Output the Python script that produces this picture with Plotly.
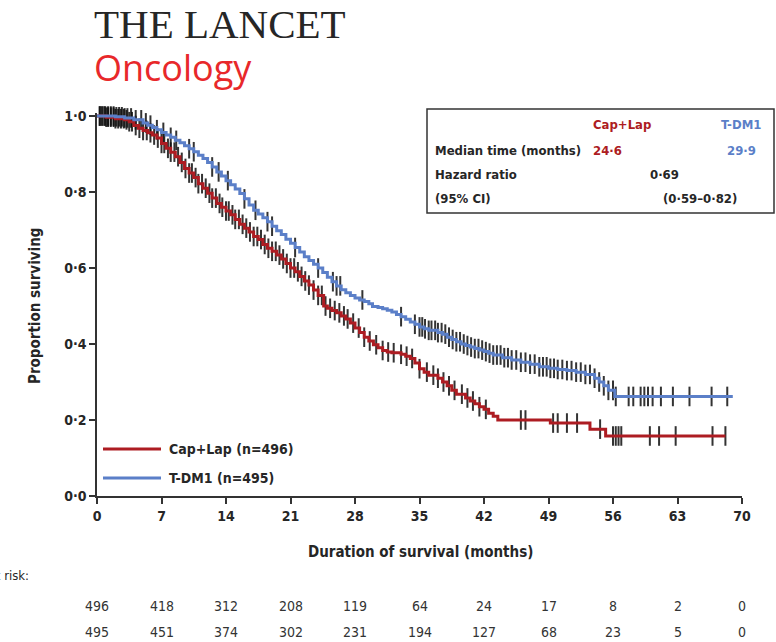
import numpy as np
import plotly.graph_objects as go

# ---- Kaplan-Meier step data (months, proportion surviving) ----
caplap_t = [0, 1, 2, 3, 3.5, 4, 4.5, 5, 5.5, 6, 6.5, 7, 7.5, 8, 8.5, 9, 9.5, 10, 10.5, 11,
            11.5, 12, 12.5, 13, 13.5, 14, 14.5, 15, 15.5, 16, 16.5, 17, 17.5, 18, 18.5, 19,
            19.5, 20, 20.5, 21, 21.5, 22, 22.5, 23, 23.5, 24, 24.6, 25, 25.5, 26, 26.5, 27,
            27.5, 28, 28.5, 29, 29.5, 30, 30.5, 31, 31.5, 32, 33, 33.5, 34, 34.5, 35, 35.5,
            36, 37, 37.5, 38, 38.5, 39, 40, 40.5, 41, 41.5, 42, 42.5, 43, 43.5, 49.2, 53.5,
            55.2, 68.2]
caplap_s = [1.000, 0.997, 0.993, 0.990, 0.985, 0.975, 0.968, 0.962, 0.956, 0.950, 0.942,
            0.928, 0.915, 0.905, 0.893, 0.878, 0.862, 0.850, 0.838, 0.822, 0.810, 0.797,
            0.784, 0.770, 0.760, 0.750, 0.740, 0.728, 0.715, 0.705, 0.695, 0.683, 0.675,
            0.662, 0.652, 0.644, 0.634, 0.624, 0.612, 0.600, 0.590, 0.578, 0.566, 0.555,
            0.542, 0.528, 0.500, 0.494, 0.488, 0.482, 0.474, 0.466, 0.455, 0.442, 0.430,
            0.418, 0.408, 0.398, 0.390, 0.383, 0.379, 0.377, 0.373, 0.368, 0.362, 0.350,
            0.335, 0.326, 0.318, 0.310, 0.300, 0.290, 0.278, 0.268, 0.258, 0.250, 0.243,
            0.235, 0.228, 0.218, 0.210, 0.200, 0.192, 0.176, 0.158, 0.158]

tdm1_t = [0, 2, 3, 4, 5, 5.5, 6, 6.5, 7, 7.5, 8, 8.5, 9, 9.5, 10, 10.5, 11, 11.5, 12, 12.5,
          13, 13.5, 14, 14.5, 15, 15.5, 16, 16.5, 17, 17.5, 18, 18.5, 19, 19.5, 20, 20.5,
          21, 21.5, 22, 22.5, 23, 23.5, 24, 24.5, 25, 25.5, 26, 26.5, 27, 27.5, 28, 28.5,
          29, 29.5, 29.9, 30.5, 31, 31.5, 32, 32.5, 33, 33.5, 34, 34.5, 35, 35.5, 36, 37,
          37.5, 38, 38.5, 39, 39.5, 40, 40.5, 41, 41.5, 42, 42.5, 43, 44, 45, 46, 47, 48,
          49, 50, 51, 52, 53, 54, 54.5, 55, 55.5, 56.2, 69.0]
tdm1_s = [1.000, 0.998, 0.995, 0.990, 0.982, 0.976, 0.970, 0.964, 0.957, 0.950, 0.944,
          0.936, 0.930, 0.922, 0.914, 0.906, 0.897, 0.888, 0.878, 0.866, 0.853, 0.842,
          0.830, 0.819, 0.808, 0.796, 0.782, 0.766, 0.752, 0.742, 0.732, 0.722, 0.710,
          0.698, 0.688, 0.676, 0.665, 0.654, 0.642, 0.630, 0.620, 0.610, 0.600, 0.588,
          0.576, 0.564, 0.553, 0.543, 0.535, 0.528, 0.521, 0.516, 0.512, 0.506, 0.499,
          0.496, 0.493, 0.489, 0.484, 0.478, 0.472, 0.465, 0.458, 0.452, 0.445, 0.440,
          0.436, 0.430, 0.426, 0.418, 0.412, 0.406, 0.400, 0.396, 0.392, 0.388, 0.384,
          0.380, 0.376, 0.371, 0.364, 0.358, 0.352, 0.347, 0.340, 0.336, 0.333, 0.330,
          0.326, 0.320, 0.310, 0.300, 0.290, 0.278, 0.262, 0.262]

# censoring times (months)
caplap_cens = [0.3, 0.5, 0.8, 1.0, 1.2, 1.5, 1.8, 2.0, 2.3, 2.6, 2.9, 3.2, 3.5, 3.8, 4.2, 4.6,
               5.0, 5.4, 5.8, 6.2, 6.6, 7.0, 7.3, 7.7, 8.0, 8.4, 8.8, 9.2, 9.6, 10.0, 10.3,
               10.7, 11.0, 11.4, 11.8, 12.2, 12.5, 12.9, 13.3, 13.6, 14.0, 14.3, 14.7, 15.0,
               15.4, 15.8, 16.2, 16.6, 17.0, 17.4, 17.8, 18.2, 18.6, 19.0, 19.4, 19.8, 20.2,
               20.6, 21.0, 21.4, 21.8, 22.2, 22.6, 23.0, 23.5, 24.0, 24.4, 24.8, 25.3, 25.8,
               26.3, 26.8, 27.2, 27.8, 28.4, 29.0, 29.6, 30.3, 31.0, 31.6, 32.2, 33.0, 33.6,
               34.2, 35.0, 35.8, 36.5, 37.0, 37.6, 38.2, 38.8, 39.6, 40.2, 40.8, 41.5, 42.2,
               46.0, 46.5, 49.5, 50.0, 51.0, 52.1, 54.6, 56.0, 56.3, 56.6, 56.9, 60.0, 61.0,
               62.8, 66.8, 68.2]
tdm1_cens = [0.3, 0.6, 0.9, 1.2, 1.5, 1.8, 2.1, 2.4, 2.7, 3.0, 3.3, 3.7, 4.2, 4.8, 5.3, 5.8,
             6.5, 7.2, 8.0, 8.6, 10.0, 10.5, 12.5, 13.2, 14.2, 16.0, 17.2, 18.5, 19.0, 21.5,
             24.0, 25.6, 26.0, 26.4, 28.8, 33.0, 34.5, 35.0, 35.3, 35.6, 36.0, 36.3, 36.7,
             37.0, 37.4, 37.8, 38.2, 38.6, 39.0, 39.4, 39.8, 40.2, 40.6, 41.0, 41.4, 41.8,
             42.2, 42.6, 43.0, 43.4, 43.8, 44.2, 44.6, 45.0, 45.5, 46.0, 46.5, 47.0, 47.5,
             48.0, 48.4, 48.8, 49.2, 49.6, 50.0, 50.5, 51.0, 51.5, 52.0, 52.5, 53.0, 53.5,
             54.0, 54.5, 55.0, 55.5, 56.0, 56.3, 57.7, 58.2, 59.0, 59.4, 59.8, 60.3, 61.2,
             62.5, 64.3, 66.7, 68.4]

# numbers at risk
risk_months = [0, 7, 14, 21, 28, 35, 42, 49, 56, 63, 70]
risk_caplap = [496, 418, 312, 208, 119, 64, 24, 17, 8, 2, 0]
risk_tdm1 = [495, 451, 374, 302, 231, 194, 127, 68, 23, 5, 0]

y_ticks = [0, 0.2, 0.4, 0.6, 0.8, 1.0]
y_ticktext = ["0·0", "0·2", "0·4", "0·6", "0·8", "1·0"]
x_ticks = [0, 7, 14, 21, 28, 35, 42, 49, 56, 63, 70]

RED = "#ad1c22"
BLUE = "#5b7fc8"
INK = "#262626"
COND = "Liberation Sans Narrow, DejaVu Sans Condensed, Arial Narrow, sans-serif"

W, H = 776, 642
L, R, T, B = 97, 34, 113, 146
PW, PH = W - L - R, H - T - B


def px(x):
    return (x - L) / PW


def py(y):
    return (H - B - y) / PH


def surv_at(times, t_steps, s_steps):
    idx = np.searchsorted(np.asarray(t_steps), np.asarray(times), side="right") - 1
    return np.asarray(s_steps)[idx]


def label(text, x, y, size, color=INK, xanchor="center", yanchor="middle", family=COND, **kw):
    return dict(text=text, x=px(x), y=py(y), xref="paper", yref="paper",
                xanchor=xanchor, yanchor=yanchor, showarrow=False,
                font=dict(family=family, size=size, color=color), **kw)


fig = go.Figure()

# censor ticks
for cens, ts, ss in [(caplap_cens, caplap_t, caplap_s), (tdm1_cens, tdm1_t, tdm1_s)]:
    fig.add_trace(go.Scatter(
        x=cens, y=surv_at(cens, ts, ss), mode="markers",
        marker=dict(symbol="line-ns", size=14, line=dict(width=2, color="rgba(15,15,15,0.85)")),
        showlegend=False, hoverinfo="skip", cliponaxis=False))

# survival curves
fig.add_trace(go.Scatter(x=caplap_t, y=caplap_s, mode="lines", line_shape="hv",
                         line=dict(color=RED, width=3), name="Cap+Lap (n=496)", showlegend=False))
fig.add_trace(go.Scatter(x=tdm1_t, y=tdm1_s, mode="lines", line_shape="hv",
                         line=dict(color=BLUE, width=3), name="T-DM1 (n=495)", showlegend=False))

ann = []
shapes = []

# journal masthead
ann.append(label("THE LANCET", 93, 48, 41, INK, xanchor="left", yanchor="bottom",
                 family="Liberation Serif, DejaVu Serif, serif", borderpad=0))
ann.append(label("Oncology", 93, 93, 36, "#e8282a", xanchor="left", yanchor="bottom",
                 family="Open Sans, Noto Sans, sans-serif", borderpad=0))

# axis titles
ann.append(label("<b>Proportion surviving</b>", 35, 306, 15, textangle=-90))
ann.append(label("<b>Duration of survival (months)</b>", 420, 552, 15))

# numbers at risk
ann.append(label("Number at risk:", 31, 575, 13, xanchor="right"))
for m, a, b in zip(risk_months, risk_caplap, risk_tdm1):
    for val, yy in [(a, 606), (b, 632)]:
        ann.append(dict(text=str(val), x=m, y=py(yy), xref="x", yref="paper", showarrow=False,
                        xanchor="center", yanchor="middle",
                        font=dict(family=COND, size=14, color="#333")))

# legend
for yy, col, lab in [(449, RED, "Cap+Lap (n=496)"), (478, BLUE, "T-DM1 (n=495)")]:
    shapes.append(dict(type="line", xref="paper", yref="paper", x0=px(103), x1=px(161),
                       y0=py(yy), y1=py(yy), line=dict(color=col, width=3)))
    ann.append(label("<b>" + lab + "</b>", 167, yy, 14, xanchor="left"))

# statistics box
shapes.append(dict(type="rect", xref="paper", yref="paper", x0=px(427), x1=px(774),
                   y0=py(213), y1=py(109), line=dict(color="#333", width=1.5)))
box_txt = [
    ("Cap+Lap", 622, 124, RED, "center"),
    ("T-DM1", 741, 124, BLUE, "center"),
    ("Median time (months)", 433, 150, INK, "left"),
    ("24·6", 607, 150, RED, "center"),
    ("29·9", 741, 150, BLUE, "center"),
    ("Hazard ratio", 433, 174, INK, "left"),
    ("0·69", 664, 174, INK, "center"),
    ("(95% CI)", 433, 198, INK, "left"),
    ("(0·59–0·82)", 700, 198, INK, "center"),
]
for txt, xx, yy, col, anc in box_txt:
    ann.append(label("<b>" + txt + "</b>", xx, yy, 13, col, xanchor=anc))

tick_font = dict(family=COND, size=14, color=INK)
fig.update_layout(
    width=W, height=H, margin=dict(l=L, r=R, t=T, b=B),
    paper_bgcolor="white", plot_bgcolor="white",
    annotations=ann, shapes=shapes, showlegend=False,
    xaxis=dict(range=[0, 70], tickvals=x_ticks, ticktext=[f"<b>{v}</b>" for v in x_ticks],
               ticks="outside", ticklen=6, tickwidth=1.5,
               tickcolor="#333", showline=True, linecolor="#333", linewidth=1.5,
               showgrid=False, zeroline=False, tickfont=tick_font),
    yaxis=dict(range=[0, 1.008], tickvals=y_ticks, ticktext=[f"<b>{t}</b>" for t in y_ticktext],
               ticks="outside", ticklen=6, tickwidth=1.5, tickcolor="#333", showline=True,
               linecolor="#333", linewidth=1.5, showgrid=False, zeroline=False,
               tickfont=tick_font),
)

fig.write_html("out.html")
